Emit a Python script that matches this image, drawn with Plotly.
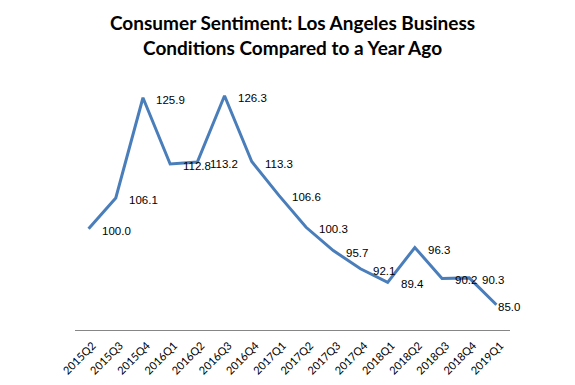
import plotly.graph_objects as go

categories = ["2015Q2", "2015Q3", "2015Q4", "2016Q1", "2016Q2", "2016Q3", "2016Q4",
              "2017Q1", "2017Q2", "2017Q3", "2017Q4", "2018Q1", "2018Q2", "2018Q3",
              "2018Q4", "2019Q1"]
values = [100.0, 106.1, 125.9, 112.8, 113.2, 126.3, 113.3, 106.6, 100.3, 95.7,
          92.1, 89.4, 96.3, 90.2, 90.3, 85.0]
labels = [f"{v:.1f}" for v in values]
title_lines = ["Consumer Sentiment: Los Angeles Business",
               "Conditions Compared to a Year Ago"]

# The page body has an 8px default margin, so the figure is sized to fit the
# 575x385 window with that offset.
W, H = 567, 377
ML, MR, MT, MB = 67, 65, 69, 55
plot_h = H - MT - MB

fig = go.Figure()
fig.add_trace(go.Scatter(
    x=categories, y=values, mode="lines",
    line=dict(color="#4a7ebb", width=3),
    cliponaxis=False, hoverinfo="x+y",
))

n = len(categories)
for i, (c, v, t) in enumerate(zip(categories, values, labels)):
    fig.add_annotation(
        x=c, y=v, xref="x", yref="y", text=t, showarrow=False,
        xanchor="left", yanchor="middle",
        xshift=(0 if i == n - 1 else 11), yshift=-2,
        font=dict(family="Liberation Sans, Arial", size=11.5, color="#000000"),
    )

fig.add_annotation(
    x=0.5, y=1 + (MT - 1) / plot_h, xref="paper", yref="paper",
    xanchor="center", yanchor="top",
    text="<b>" + "<br>".join(title_lines) + "</b>", showarrow=False,
    font=dict(family="Lato, Open Sans, sans-serif", size=19, color="#000000"),
)

fig.update_layout(
    width=W, height=H,
    template="none",
    paper_bgcolor="white", plot_bgcolor="white",
    margin=dict(l=ML, r=MR, t=MT, b=MB),
    showlegend=False,
)
fig.update_xaxes(
    type="category", showgrid=False, zeroline=False,
    showline=True, linecolor="#868686", linewidth=1,
    ticks="", tickangle=-45, automargin=False,
    ticklabelstandoff=4, ticklabelshift=4,
    tickfont=dict(family="Lato, Open Sans, sans-serif", size=11, color="#000000"),
    range=[-0.5, n - 0.5],
)
fig.update_yaxes(
    range=[80, 130], visible=False, showgrid=False, zeroline=False,
)

fig.write_html("out.html")
